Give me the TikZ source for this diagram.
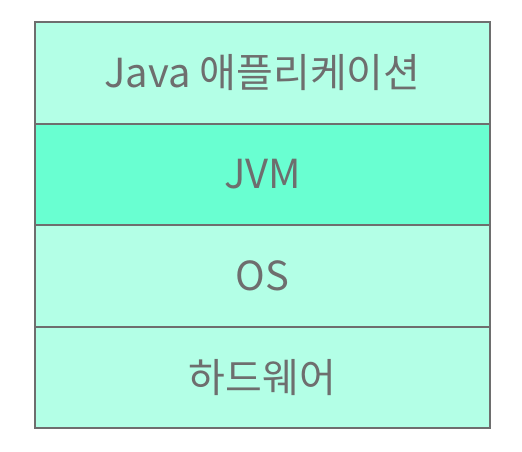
\documentclass[tikz,border=0pt]{standalone}
\usepackage{fontspec}
\setmainfont{Noto Sans CJK KR}
\definecolor{lightmint}{HTML}{B3FFE6}
\definecolor{darkmint}{HTML}{69FFD1}
\definecolor{edgegray}{HTML}{6E6E6E}
\begin{document}
\begin{tikzpicture}[x=1pt,y=-1pt,
  layer/.style={draw=edgegray,line width=2pt,minimum width=455pt,minimum height=101.5pt,inner sep=0pt,anchor=north west,text=edgegray,font=\fontsize{40}{46}\selectfont}]
\useasboundingbox (0,0) rectangle (522,452);
\node[layer,fill=lightmint] (app) at (34,21) {Java 애플리케이션};
\node[layer,fill=darkmint] (jvm) at (34,122.5) {JVM};
\node[layer,fill=lightmint] (os) at (34,224) {OS};
\node[layer,fill=lightmint] (hw) at (34,325.5) {하드웨어};
\end{tikzpicture}
\end{document}
